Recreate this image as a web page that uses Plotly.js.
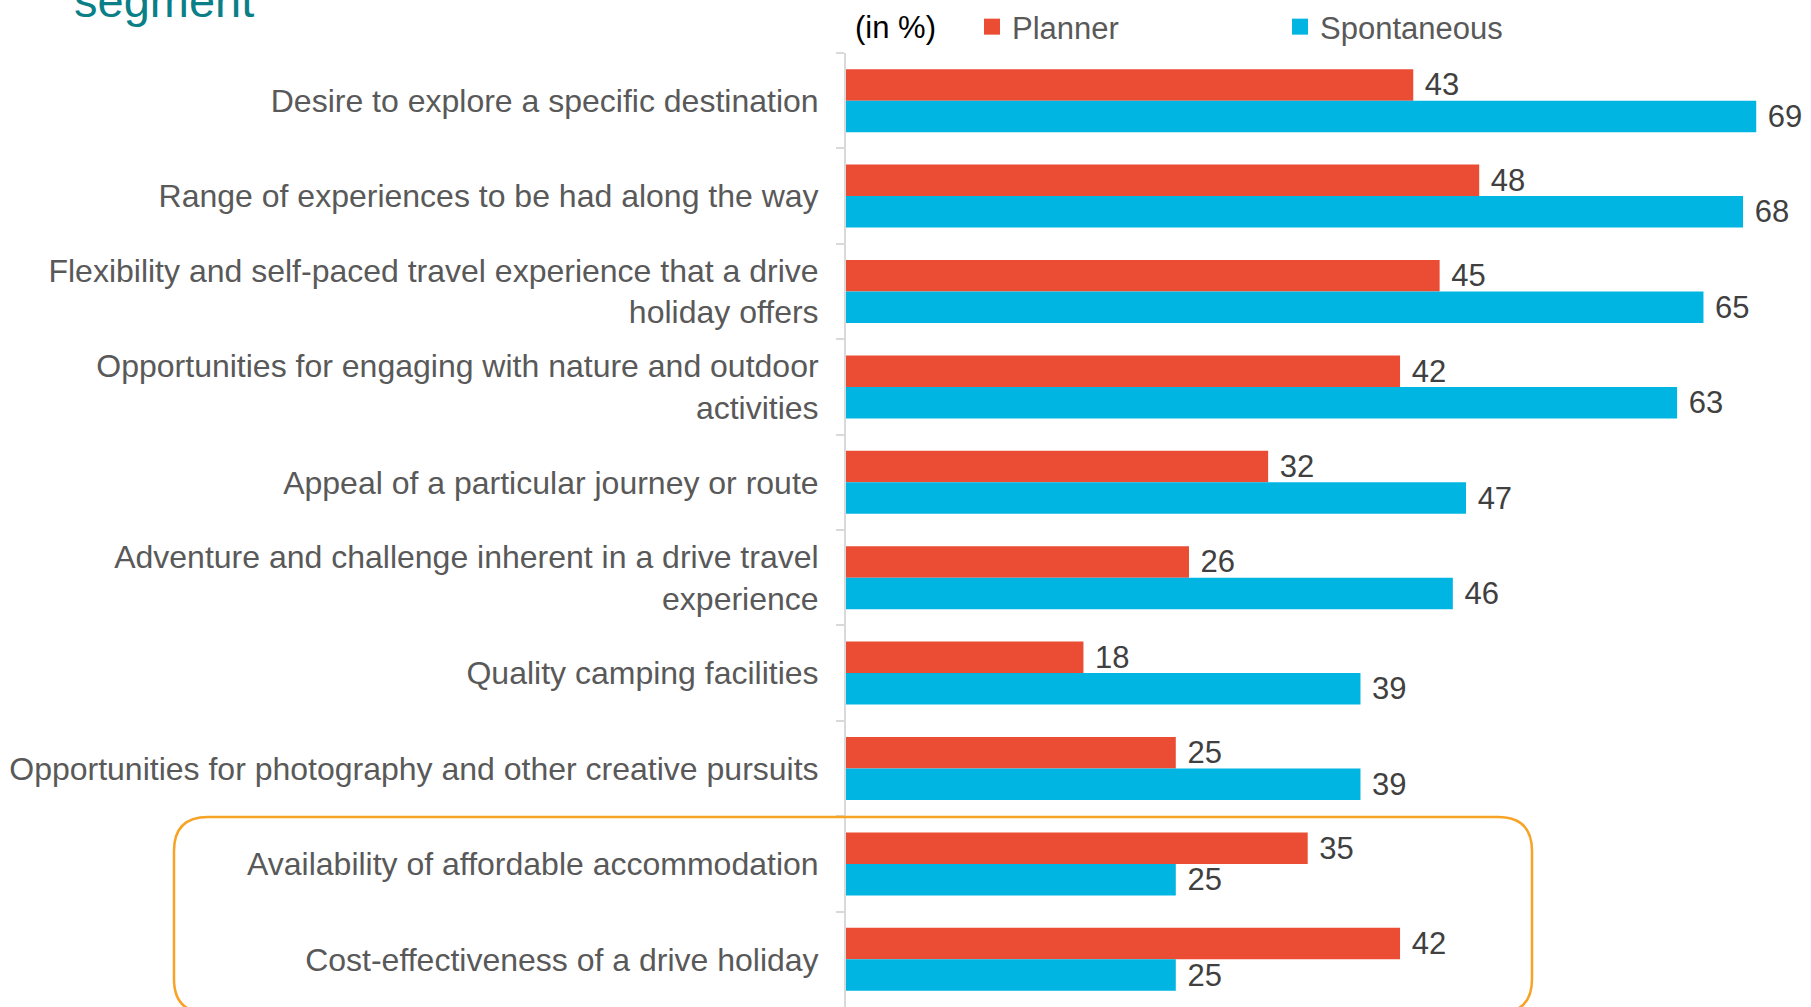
<!DOCTYPE html>
<html>
<head>
<meta charset="utf-8">
<script src="https://cdn.plot.ly/plotly-3.0.1.min.js"></script>
<style>
html,body{margin:0;padding:0;background:#fff;}
#chart{width:1811px;height:1007px;}
</style>
</head>
<body>
<div id="chart"></div>
<script>
const categories = [
  "Desire to explore a specific destination",
  "Range of experiences to be had along the way",
  "Flexibility and self-paced travel experience that a drive<br>holiday offers",
  "Opportunities for engaging with nature and outdoor<br>activities",
  "Appeal of a particular journey or route",
  "Adventure and challenge inherent in a drive travel<br>experience",
  "Quality camping facilities",
  "Opportunities for photography and other creative pursuits",
  "Availability of affordable accommodation",
  "Cost-effectiveness of a drive holiday"
];
const planner = [43, 48, 45, 42, 32, 26, 18, 25, 35, 42];
const spontaneous = [69, 68, 65, 63, 47, 46, 39, 39, 25, 25];
const seriesNames = ["Planner", "Spontaneous"];
const seriesColors = ["#EA4D33", "#00B5E2"];
const unitNote = "(in %)";
const titleText = "segment";

const W = 1811, H = 1007;
const L = 846, R = 2, T = 53, B = 0;
const PW = W - L - R, PH = H - T - B;
const px = x => (x - L) / PW;
const py = y => 1 - (y - T) / PH;

const FAM = "Liberation Sans, Arial, sans-serif";
const labelFont = {family: FAM, size: 31, color: "#404040"};

const seriesValues = [planner, spontaneous];
const traces = [];
seriesValues.forEach((vals, i) => {
  traces.push({
    type: "bar", orientation: "h", name: seriesNames[i],
    y: categories, x: vals,
    marker: {color: seriesColors[i]},
    text: vals.map(v => "\u00a0" + v), textposition: "outside",
    textfont: labelFont, cliponaxis: false, constraintext: "none",
    hoverinfo: "skip", showlegend: false, legendgroup: seriesNames[i]
  });
});
// legend entries (square swatches)
seriesValues.forEach((vals, i) => {
  traces.push({
    type: "scatter", mode: "markers", name: seriesNames[i],
    x: [null], y: [null],
    marker: {symbol: "square", size: 16, color: seriesColors[i]},
    legendgroup: seriesNames[i], hoverinfo: "skip"
  });
});

// rounded box around last two categories (pixel geometry)
const bx0 = 174, bx1 = 1532, by0 = 817, by1 = 1013, r = 34;
const pth = [
  `M${px(bx0 + r)},${py(by0)}`,
  `H${px(bx1 - r)}`,
  `Q${px(bx1)},${py(by0)} ${px(bx1)},${py(by0 + r)}`,
  `V${py(by1 - r)}`,
  `Q${px(bx1)},${py(by1)} ${px(bx1 - r)},${py(by1)}`,
  `H${px(bx0 + r)}`,
  `Q${px(bx0)},${py(by1)} ${px(bx0)},${py(by1 - r)}`,
  `V${py(by0 + r)}`,
  `Q${px(bx0)},${py(by0)} ${px(bx0 + r)},${py(by0)}`,
  "Z"
].join(" ");

const layout = {
  width: W, height: H,
  margin: {l: L, r: R, t: T, b: B, pad: 0},
  paper_bgcolor: "#fff", plot_bgcolor: "#fff",
  font: {family: FAM, size: 31, color: "#595959"},
  barmode: "group", bargap: 0.34, bargroupgap: 0,
  title: {
    text: titleText, x: 74 / W, xanchor: "left", xref: "container",
    y: 1 - 17 / H, yanchor: "bottom", yref: "container",
    font: {family: FAM, size: 47, color: "#0B7F88"}
  },
  xaxis: {
    range: [0, 73], showgrid: false, zeroline: false, showticklabels: false,
    showline: false, ticks: "", fixedrange: true
  },
  yaxis: {
    type: "category", autorange: "reversed",
    showgrid: false, zeroline: false,
    showline: true, linecolor: "#D9D9D9", linewidth: 2,
    ticks: "outside", tickson: "boundaries", ticklen: 8, tickwidth: 2, tickcolor: "#D9D9D9",
    ticklabelstandoff: 19,
    tickfont: {family: FAM, size: 32, color: "#595959"},
    fixedrange: true
  },
  showlegend: true,
  legend: {
    orientation: "h", x: px(972), xanchor: "left", y: py(27), yanchor: "middle",
    font: {family: FAM, size: 31, color: "#595959"},
    entrywidth: 263, entrywidthmode: "pixels", itemsizing: "trace",
    bgcolor: "rgba(0,0,0,0)", borderwidth: 0, traceorder: "normal"
  },
  annotations: [
    {
      text: unitNote, xref: "paper", yref: "paper",
      x: px(853), xanchor: "left", y: py(27), yanchor: "middle",
      showarrow: false,
      font: {family: FAM, size: 31, color: "#000"}
    }
  ],
  shapes: [
    {type: "path", xref: "paper", yref: "paper", path: pth,
     line: {color: "#F7A325", width: 2.5}, fillcolor: "rgba(0,0,0,0)", layer: "above"}
  ]
};

Plotly.newPlot("chart", traces, layout, {displayModeBar: false, staticPlot: true});
</script>
</body>
</html>
